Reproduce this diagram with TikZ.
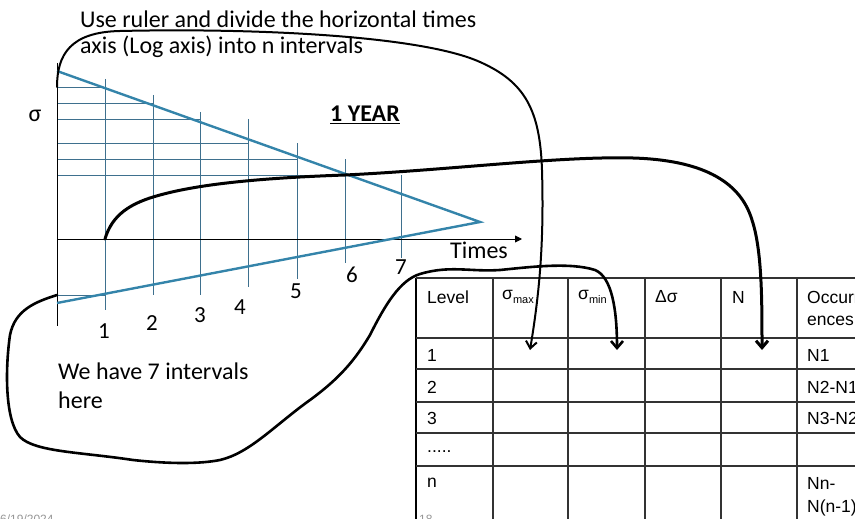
\documentclass[tikz,border=0pt]{standalone}
\usepackage{fontspec}
\setmainfont{Carlito}
\newfontfamily\arialf{Liberation Sans}
\usetikzlibrary{arrows.meta}
\definecolor{diagblue}{RGB}{52,132,170}
\definecolor{gridblue}{RGB}{62,112,142}
\definecolor{footgray}{RGB}{150,150,150}
\begin{document}
\begin{tikzpicture}[x=1pt,y=-1pt,
  gridline/.style={gridblue,line width=0.9pt},
  diag/.style={diagblue,line width=2.4pt,line join=miter},
  axis/.style={black,line width=0.9pt},
  lbl/.style={font=\fontsize{24}{27}\selectfont,inner sep=0pt},
  num/.style={font=\fontsize{23}{25}\selectfont,inner sep=0pt},
  cell/.style={font=\arialf\fontsize{17.5}{24}\selectfont,inner sep=0pt,anchor=west},
  tline/.style={black!80,line width=1.3pt},
  hand/.style={black,line width=2pt,line cap=round},
  handthick/.style={black,line width=3pt,line cap=round},
  foot/.style={font=\arialf\fontsize{12}{12}\selectfont,footgray,inner sep=0pt,anchor=base west}]
\useasboundingbox (0,0) rectangle (855,519);
\clip (0,0) rectangle (855,519);

% horizontal grid lines
\foreach \y/\xe in {87/105,103/153,119/200,143/248,159/297,175/345,295/105}
  \draw[gridline] (57,\y) -- (\xe,\y);
% vertical grid lines
\foreach \x/\yt/\yb in {105/79/310,153/95/295,200/112/295,248/119/287,297/143/279,345/159/263,401/175/258}
  \draw[gridline] (\x,\yt) -- (\x,\yb);

% axes
\coordinate (origin) at (57,239);
\coordinate (xend) at (522,239);
\draw[axis] (57,63) -- (57,326);
\draw[axis,-{Triangle[length=7pt,width=7pt]}] (origin) -- (xend);

% blue triangle lines
\coordinate (dA) at (57,71);
\coordinate (dB) at (480,222);
\coordinate (dC) at (57,303);
\draw[diag] (dA) -- (dB) -- (dC);

% labels
\node[lbl,anchor=west] (t1) at (80,19) {Use ruler and divide the horizontal times};
\node[lbl,anchor=west] (t2) at (80,47) {axis (Log axis) into n intervals};
\node[lbl] (sig) at (35,116) {σ};
\node[lbl,font=\bfseries\fontsize{24}{27}\selectfont] (year) at (365,115) {\underline{1 YEAR}};
\node[lbl] (times) at (479,250) {Times};
\node[num] (n1) at (104,331) {1};
\node[num] (n2) at (152,323) {2};
\node[num] (n3) at (200,315) {3};
\node[num] (n4) at (240,307) {4};
\node[num] (n5) at (296,291) {5};
\node[num] (n6) at (352,275) {6};
\node[num] (n7) at (401,267) {7};
\node[lbl,anchor=west] (w1) at (58,371) {We have 7 intervals};
\node[lbl,anchor=west] (w2) at (58,400) {here};

% table
\draw[black,line width=2.6pt] (416,278) -- (416,525);
\draw[tline] (416,278) -- (860,278);
\foreach \y in {338,369,402,433,466}
  \draw[tline] (416,\y) -- (860,\y);
\foreach \x in {493,568,645,721,797}
  \draw[tline] (\x,278) -- (\x,525);

\node[cell] (hLevel) at (427,297) {Level};
\node[cell] (hmax) at (502,297) {σ\raisebox{-4pt}{\fontsize{11}{11}\selectfont max}};
\node[cell] (hmin) at (578,297) {σ\raisebox{-4pt}{\fontsize{11}{11}\selectfont min}};
\node[cell] (hds) at (655,297) {Δσ};
\node[cell] (hN) at (732,297) {N};
\node[cell] (hocc1) at (807,297) {Occurr};
\node[cell] (hocc2) at (807,321) {ences};
\node[cell] (r1) at (427,355) {1};
\node[cell] (r2) at (427,387) {2};
\node[cell] (r3) at (427,418) {3};
\node[cell] (r4) at (427,452) {.....};
\node[cell] (r5) at (427,483) {n};
\node[cell] (o1) at (807,355) {N1};
\node[cell] (o2) at (807,387) {N2-N1};
\node[cell] (o3) at (807,418) {N3-N2};
\node[cell] (o5a) at (807,483) {Nn-};
\node[cell] (o5b) at (807,508) {N(n-1)};

% footer
\node[foot] (date) at (0,523) {6/19/2024};
\node[foot] (page) at (419,523) {18};

% hand-drawn curves
\coordinate (c1s) at (57,87);
\coordinate (c1e) at (530,350);
\draw[hand,-{Straight Barb[length=7pt,width=11pt]}] (c1s)
  .. controls (57,55) and (70,32) .. (120,31)
  .. controls (250,28) and (420,35) .. (480,62)
  .. controls (525,82) and (540,110) .. (542,170)
  .. controls (544,240) and (540,290) .. (c1e);

\coordinate (c2s) at (105,239);
\coordinate (c2e) at (762,350);
\draw[handthick,-{Straight Barb[length=7pt,width=12pt]}] (c2s)
  .. controls (112,215) and (130,203) .. (160,195)
  .. controls (200,184) and (260,178) .. (345,175)
  .. controls (450,170) and (560,156) .. (633,158)
  .. controls (700,160) and (740,180) .. (752,220)
  .. controls (762,250) and (762,300) .. (c2e);

\coordinate (c3s) at (57,295);
\coordinate (c3e) at (617,350);
\draw[handthick,line width=2.6pt,-{Straight Barb[length=7pt,width=12pt]}] (c3s)
  .. controls (35,302) and (15,310) .. (10,335)
  .. controls (5,370) and (5,420) .. (20,437)
  .. controls (35,452) and (80,452) .. (133,460)
  .. controls (170,464) and (200,464) .. (220,460)
  .. controls (250,453) and (275,425) .. (310,400)
  .. controls (340,378) and (355,360) .. (370,335)
  .. controls (385,305) and (400,280) .. (420,274)
  .. controls (450,265) and (470,272) .. (500,270)
  .. controls (530,267) and (570,262) .. (595,270)
  .. controls (612,277) and (617,310) .. (c3e);
\end{tikzpicture}
\end{document}
